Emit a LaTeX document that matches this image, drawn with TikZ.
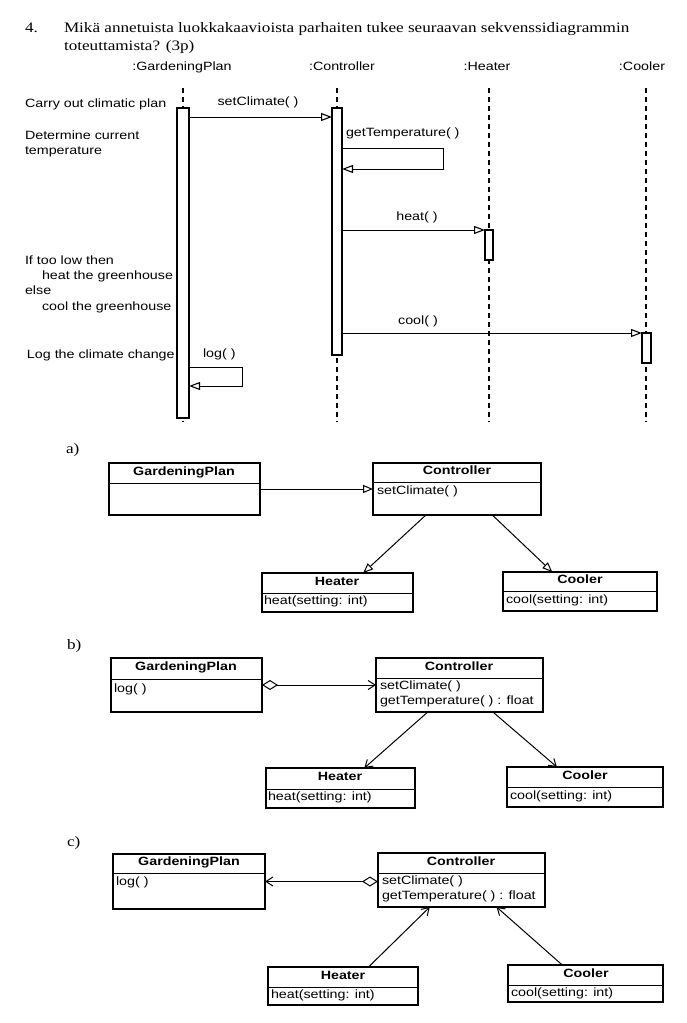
\documentclass[tikz,border=0pt]{standalone}
\usepackage{fontspec}
\setmainfont{Liberation Serif}[FakeStretch=1.19]
\newfontfamily\sfw{Liberation Sans}[FakeStretch=1.19]
\usetikzlibrary{arrows.meta,calc}
\begin{document}
\begin{tikzpicture}[x=1pt,y=-1pt,
  every node/.style={inner sep=0pt, outer sep=0pt},
  ser/.style={font=\fontsize{14.4}{17}\selectfont, anchor=mid west},
  sf/.style={font=\sfw\fontsize{12}{14}\selectfont, anchor=mid},
  sfl/.style={sf, anchor=mid west},
  sfb/.style={font=\sfw\bfseries\fontsize{12}{14}\selectfont, anchor=mid},
  life/.style={line width=1.1pt, dash pattern=on 5pt off 4pt},
  actbar/.style={draw, line width=1.8pt, fill=white, anchor=north},
  msg/.style={line width=1pt, -{Triangle[open, length=11pt, width=8pt, line width=1.1pt]}},
  cls/.style={draw, line width=1.8pt, anchor=north west},
  sep/.style={line width=0.9pt},
  gen/.style={line width=1pt, -{Triangle[open, length=10pt, width=8pt, line width=1pt]}},
  nav/.style={line width=1pt, -{Straight Barb[length=7pt, width=9pt, line width=1pt]}},
  agg/.style={line width=1pt, {Diamond[open, length=16pt, width=10pt, line width=1pt]}-{Straight Barb[length=7pt, width=9pt, line width=1pt]}},
]
\fill[white] (0,0) rectangle (687,1023);
\useasboundingbox (0,0) rectangle (687,1023);

% ---- question ----
\node[ser] (q4) at (25,30) {4.};
\node[ser] (q1) at (64,30) {Mikä annetuista luokkakaavioista parhaiten tukee seuraavan sekvenssidiagrammin};
\node[ser] (q2) at (64,48) {toteuttamista? (3p)};

% ---- sequence diagram ----
\node[sf] (lgp) at (182,68) {:GardeningPlan};
\node[sf] (lct) at (342,68) {:Controller};
\node[sf] (lht) at (487,68) {:Heater};
\node[sf] (lcl) at (642,68) {:Cooler};

\coordinate (gpT) at (183,88);  \coordinate (gpB) at (183,422);
\coordinate (ctT) at (337,88);  \coordinate (ctB) at (337,422);
\coordinate (htT) at (489,88);  \coordinate (htB) at (489,422);
\coordinate (clT) at (646,88);  \coordinate (clB) at (646,422);
\draw[life] (gpT) -- (gpB);
\draw[life] (ctT) -- (ctB);
\draw[life] (htT) -- (htB);
\draw[life] (clT) -- (clB);

\node[actbar, minimum width=12pt, minimum height=310pt] (gpbar) at (183,108) {};
\node[actbar, minimum width=10pt, minimum height=247pt] (ctbar) at (337,108) {};
\node[actbar, minimum width=8pt, minimum height=30pt] (htbar) at (489,230) {};
\node[actbar, minimum width=9pt, minimum height=30pt] (clbar) at (646.5,333) {};

\draw[msg] ($(gpbar.north east)+(0,9)$) -- ($(ctbar.north west)+(0,9)$);
\node[sf] (mset) at (258,103) {setClimate( )};

\draw[msg] ($(ctbar.north east)+(0,40)$) -- ++(101,0) -- ++(0,21) -- ($(ctbar.north east)+(0,61)$);
\node[sfl] (mget) at (346,134) {getTemperature( )};

\draw[msg] ($(ctbar.north east)+(0,122)$) -- (htbar.north west);
\node[sf] (mheat) at (417,218) {heat( )};

\draw[msg] ($(ctbar.north east)+(0,225)$) -- (clbar.north west);
\node[sf] (mcool) at (418,322) {cool( )};

\draw[msg] ($(gpbar.north east)+(0,259)$) -- ++(53,0) -- ++(0,19) -- ($(gpbar.north east)+(0,278)$);
\node[sfl] (mlog) at (203,355) {log( )};

\node[sfl] (n1) at (25,105) {Carry out climatic plan};
\node[sfl] (n2) at (25,137) {Determine current};
\node[sfl] (n3) at (25,152) {temperature};
\node[sfl] (n4) at (25,262) {If too low then};
\node[sfl] (n5) at (42,277) {heat the greenhouse};
\node[sfl] (n6) at (25,292) {else};
\node[sfl] (n7) at (42,308) {cool the greenhouse};
\node[sfl] (n8) at (27,356) {Log the climate change};

% ---- a) ----
\node[ser] (la) at (66,451) {a)};
\node[cls, minimum width=151pt, minimum height=52pt] (gpA) at (109,463) {};
\draw[sep] (109,483) -- (260,483);
\node[sfb] (gpAn) at (184,473) {GardeningPlan};

\node[cls, minimum width=168pt, minimum height=52pt] (ctA) at (373,463) {};
\draw[sep] (373,482) -- (541,482);
\node[sfb] (ctAn) at (457,472.5) {Controller};
\node[sfl] (ctAm) at (377,492) {setClimate( )};

\node[cls, minimum width=151pt, minimum height=39pt] (htA) at (262,573) {};
\draw[sep] (262,593) -- (413,593);
\node[sfb] (htAn) at (337,583) {Heater};
\node[sfl] (htAm) at (264,602.5) {heat(setting: int)};

\node[cls, minimum width=154pt, minimum height=39pt] (clA) at (503,572) {};
\draw[sep] (503,591) -- (657,591);
\node[sfb] (clAn) at (580,581.5) {Cooler};
\node[sfl] (clAm) at (506,601) {cool(setting: int)};

\draw[gen] (gpA.east) -- (gpA.east -| ctA.west);
\draw[gen] ($(ctA.south west)!0.315!(ctA.south east)$) -- ($(htA.north west)!0.67!(htA.north east)$);
\draw[gen] ($(ctA.south west)!0.71!(ctA.south east)$) -- ($(clA.north west)!0.32!(clA.north east)$);

% ---- b) ----
\node[ser] (lb) at (67,647) {b)};
\node[cls, minimum width=151pt, minimum height=54pt] (gpB) at (111,658) {};
\draw[sep] (111,679) -- (262,679);
\node[sfb] (gpBn) at (186,668.5) {GardeningPlan};
\node[sfl] (gpBm) at (114,690) {log( )};

\node[cls, minimum width=167pt, minimum height=54pt] (ctB) at (376,658) {};
\draw[sep] (376,678) -- (543,678);
\node[sfb] (ctBn) at (459,668) {Controller};
\node[sfl] (ctBm1) at (380,687.5) {setClimate( )};
\node[sfl] (ctBm2) at (380,702) {getTemperature( ) : float};

\node[cls, minimum width=149pt, minimum height=40pt] (htB) at (266,768) {};
\draw[sep] (266,789) -- (415,789);
\node[sfb] (htBn) at (340,778.5) {Heater};
\node[sfl] (htBm) at (268,798.5) {heat(setting: int)};

\node[cls, minimum width=156pt, minimum height=40pt] (clB) at (507,767) {};
\draw[sep] (507,787) -- (663,787);
\node[sfb] (clBn) at (585,777) {Cooler};
\node[sfl] (clBm) at (510,797) {cool(setting: int)};

\draw[agg] (gpB.east) -- (gpB.east -| ctB.west);
\draw[nav] ($(ctB.south west)!0.31!(ctB.south east)$) -- ($(htB.north west)!0.66!(htB.north east)$);
\draw[nav] ($(ctB.south west)!0.70!(ctB.south east)$) -- ($(clB.north west)!0.32!(clB.north east)$);

% ---- c) ----
\node[ser] (lc) at (67,844) {c)};
\node[cls, minimum width=152pt, minimum height=55pt] (gpC) at (113,854) {};
\draw[sep] (113,873) -- (265,873);
\node[sfb] (gpCn) at (189,863.5) {GardeningPlan};
\node[sfl] (gpCm) at (116,883) {log( )};

\node[cls, minimum width=167pt, minimum height=54pt] (ctC) at (378,853) {};
\draw[sep] (378,873) -- (545,873);
\node[sfb] (ctCn) at (461,863) {Controller};
\node[sfl] (ctCm1) at (382,882) {setClimate( )};
\node[sfl] (ctCm2) at (382,897) {getTemperature( ) : float};

\node[cls, minimum width=150pt, minimum height=38pt] (htC) at (268,967) {};
\draw[sep] (268,987) -- (418,987);
\node[sfb] (htCn) at (343,977) {Heater};
\node[sfl] (htCm) at (271,996.5) {heat(setting: int)};

\node[cls, minimum width=155pt, minimum height=37pt] (clC) at (508,965) {};
\draw[sep] (508,985) -- (663,985);
\node[sfb] (clCn) at (586,975) {Cooler};
\node[sfl] (clCm) at (511,994) {cool(setting: int)};

\draw[agg] (ctC.west |- gpC.east) -- (gpC.east);
\draw[nav] ($(htC.north west)!0.67!(htC.north east)$) -- ($(ctC.south west)!0.31!(ctC.south east)$);
\draw[nav] ($(clC.north west)!0.35!(clC.north east)$) -- ($(ctC.south west)!0.71!(ctC.south east)$);
\end{tikzpicture}
\end{document}
